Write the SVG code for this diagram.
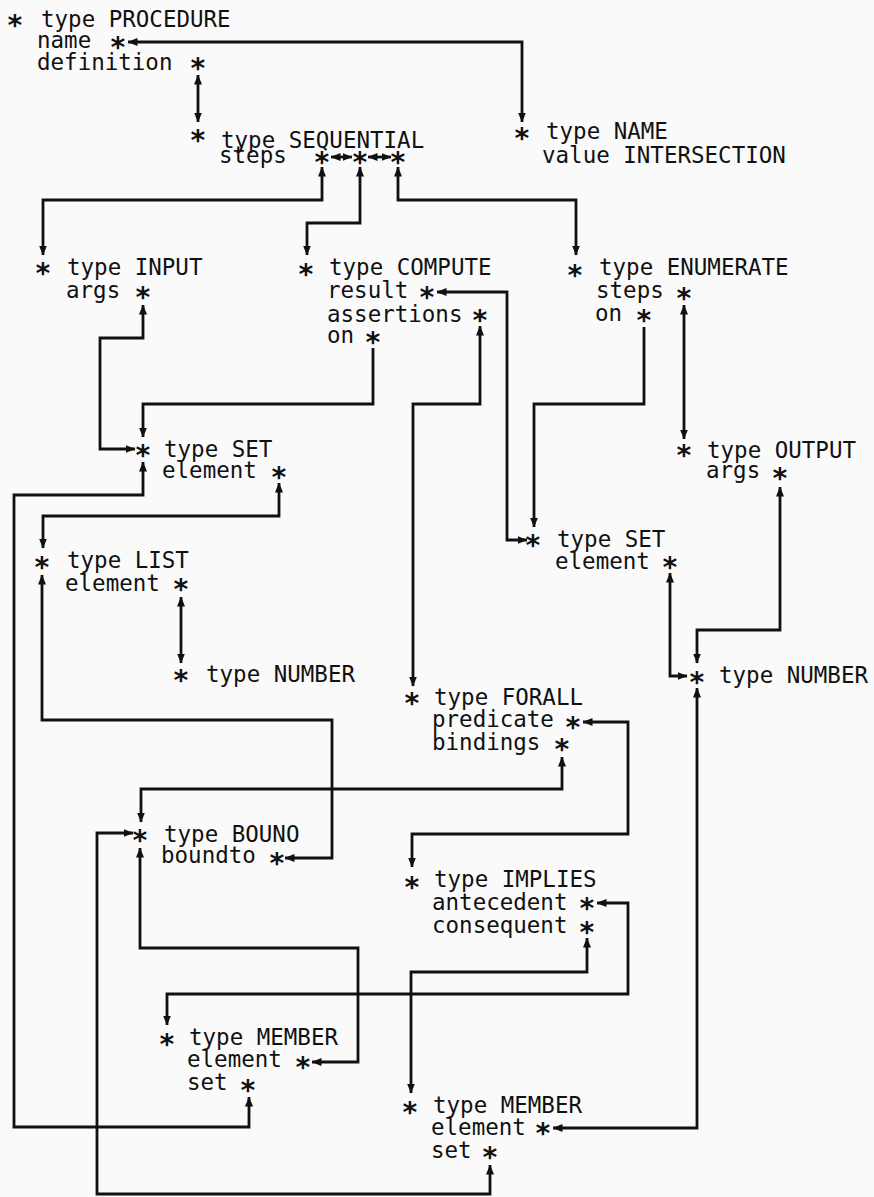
<svg xmlns="http://www.w3.org/2000/svg" width="874" height="1197" viewBox="0 0 874 1197">
<defs>
<style>
text{font-family:"DejaVu Sans Mono","Liberation Mono",monospace;font-size:22.5px;fill:#111}
.s{font-size:28px;font-weight:bold}
.c{fill:none;stroke:#111;stroke-width:2.8;stroke-linejoin:miter;marker-end:url(#ah);marker-start:url(#ah)}
.c1{fill:none;stroke:#111;stroke-width:2.8;marker-end:url(#ah)}
</style>
<marker id="ah" markerUnits="userSpaceOnUse" markerWidth="10" markerHeight="10" viewBox="0 0 10 10" refX="9.5" refY="5" orient="auto-start-reverse"><path d="M0,1 L10,5 L0,9 z" fill="#111"/></marker>
</defs>
<rect width="874" height="1197" fill="#fafafa"/>
<g id="connectors">
<path class="c" d="M128,42 H522 V122"/>
<path class="c" d="M198,75 V122"/>
<path class="c" d="M331,157 H352"/>
<path class="c" d="M368,157 H391"/>
<path class="c" d="M322,167 V200 H43 V255"/>
<path class="c" d="M360,167 V223 H307 V255"/>
<path class="c" d="M398,167 V200 H576 V255"/>
<path class="c" d="M143,305 V338 H100 V449 H135"/>
<path class="c1" d="M373,348 V404 H143 V437"/>
<path class="c" d="M279,483 V516 H43 V548"/>
<path class="c" d="M143,462 V495 H14 V1127 H249 V1097"/>
<path class="c" d="M181,597 V663"/>
<path class="c" d="M42,575 V720 H332 V858 H285"/>
<path class="c" d="M437,292 H507 V540 H527"/>
<path class="c" d="M480,326 V404 H413 V686"/>
<path class="c1" d="M644,327 V404 H534 V527"/>
<path class="c" d="M684,305 V439"/>
<path class="c" d="M780,487 V630 H697 V663"/>
<path class="c" d="M670,573 V676 H687"/>
<path class="c" d="M697,688 V1128 H553"/>
<path class="c" d="M583,722 H628 V834 H412 V867"/>
<path class="c" d="M562,757 V789 H141 V822"/>
<path class="c" d="M133,833 H97 V1194 H490 V1165"/>
<path class="c" d="M140,848 V948 H358 V1062 H312"/>
<path class="c" d="M597,903 H628 V994 H167 V1025"/>
<path class="c" d="M587,938 V972 H411 V1093"/>
</g>
<g id="procedure">
<text><tspan class="s" x="6.6" y="35">*</tspan> <tspan x="41" y="27">type PROCEDURE</tspan></text>
<text><tspan x="37" y="48">name</tspan> <tspan class="s" x="109.6" y="57">*</tspan></text>
<text><tspan x="37" y="70">definition</tspan> <tspan class="s" x="189.6" y="78">*</tspan></text>
</g>
<g id="sequential">
<text><tspan class="s" x="189.6" y="150">*</tspan> <tspan x="221" y="148">type SEQUENTIAL</tspan></text>
<text><tspan x="219" y="163">steps</tspan> <tspan class="s" x="313.6" y="172">*</tspan><tspan class="s" x="351.6" y="172">*</tspan><tspan class="s" x="389.6" y="172">*</tspan></text>
</g>
<g id="name">
<text><tspan class="s" x="513.6" y="148">*</tspan> <tspan x="546" y="139">type NAME</tspan></text>
<text x="542" y="163">value INTERSECTION</text>
</g>
<g id="input">
<text><tspan class="s" x="34.6" y="283">*</tspan> <tspan x="67" y="275">type INPUT</tspan></text>
<text><tspan x="66" y="298">args</tspan> <tspan class="s" x="134.6" y="307">*</tspan></text>
</g>
<g id="compute">
<text><tspan class="s" x="297.6" y="284">*</tspan> <tspan x="329" y="275">type COMPUTE</tspan></text>
<text><tspan x="327" y="298">result</tspan> <tspan class="s" x="418.6" y="307">*</tspan></text>
<text><tspan x="327" y="322">assertions</tspan> <tspan class="s" x="471.6" y="330">*</tspan></text>
<text><tspan x="327" y="343">on</tspan> <tspan class="s" x="364.6" y="352">*</tspan></text>
</g>
<g id="enumerate">
<text><tspan class="s" x="566.6" y="285">*</tspan> <tspan x="599" y="275">type ENUMERATE</tspan></text>
<text><tspan x="596" y="298">steps</tspan> <tspan class="s" x="675.6" y="308">*</tspan></text>
<text><tspan x="595" y="321">on</tspan> <tspan class="s" x="635.6" y="330">*</tspan></text>
</g>
<g id="set1">
<text><tspan class="s" x="134.6" y="465">*</tspan> <tspan x="164" y="457">type SET</tspan></text>
<text><tspan x="162" y="478">element</tspan> <tspan class="s" x="270.6" y="487">*</tspan></text>
</g>
<g id="output">
<text><tspan class="s" x="675.6" y="465">*</tspan> <tspan x="707" y="458">type OUTPUT</tspan></text>
<text><tspan x="706" y="478">args</tspan> <tspan class="s" x="771.6" y="488">*</tspan></text>
</g>
<g id="list">
<text><tspan class="s" x="33.6" y="577">*</tspan> <tspan x="67" y="568">type LIST</tspan></text>
<text><tspan x="65" y="591">element</tspan> <tspan class="s" x="172.6" y="599">*</tspan></text>
</g>
<g id="number1">
<text><tspan class="s" x="172.6" y="690">*</tspan> <tspan x="206" y="682">type NUMBER</tspan></text>
</g>
<g id="set2">
<text><tspan class="s" x="524.6" y="555">*</tspan> <tspan x="557" y="547">type SET</tspan></text>
<text><tspan x="555" y="569">element</tspan> <tspan class="s" x="661.6" y="577">*</tspan></text>
</g>
<g id="number2">
<text><tspan class="s" x="688.6" y="692">*</tspan> <tspan x="719" y="683">type NUMBER</tspan></text>
</g>
<g id="forall">
<text><tspan class="s" x="403.6" y="713">*</tspan> <tspan x="434" y="705">type FORALL</tspan></text>
<text><tspan x="432" y="727">predicate</tspan> <tspan class="s" x="564.6" y="737">*</tspan></text>
<text><tspan x="432" y="750">bindings</tspan> <tspan class="s" x="553.6" y="759">*</tspan></text>
</g>
<g id="bound">
<text><tspan class="s" x="131.6" y="850">*</tspan> <tspan x="164" y="842">type BOUNO</tspan></text>
<text><tspan x="161" y="863">boundto</tspan> <tspan class="s" x="268.6" y="873">*</tspan></text>
</g>
<g id="implies">
<text><tspan class="s" x="403.6" y="897">*</tspan> <tspan x="434" y="887">type IMPLIES</tspan></text>
<text><tspan x="432" y="910">antecedent</tspan> <tspan class="s" x="578.6" y="918">*</tspan></text>
<text><tspan x="432" y="933">consequent</tspan> <tspan class="s" x="578.6" y="942">*</tspan></text>
</g>
<g id="member1">
<text><tspan class="s" x="158.6" y="1054">*</tspan> <tspan x="189" y="1045">type MEMBER</tspan></text>
<text><tspan x="187" y="1067">element</tspan> <tspan class="s" x="294.6" y="1077">*</tspan></text>
<text><tspan x="187" y="1090">set</tspan> <tspan class="s" x="239.6" y="1100">*</tspan></text>
</g>
<g id="member2">
<text><tspan class="s" x="401.6" y="1122">*</tspan> <tspan x="433" y="1113">type MEMBER</tspan></text>
<text><tspan x="431" y="1135">element</tspan> <tspan class="s" x="534.6" y="1143">*</tspan></text>
<text><tspan x="431" y="1158">set</tspan> <tspan class="s" x="481.6" y="1167">*</tspan></text>
</g>
</svg>
